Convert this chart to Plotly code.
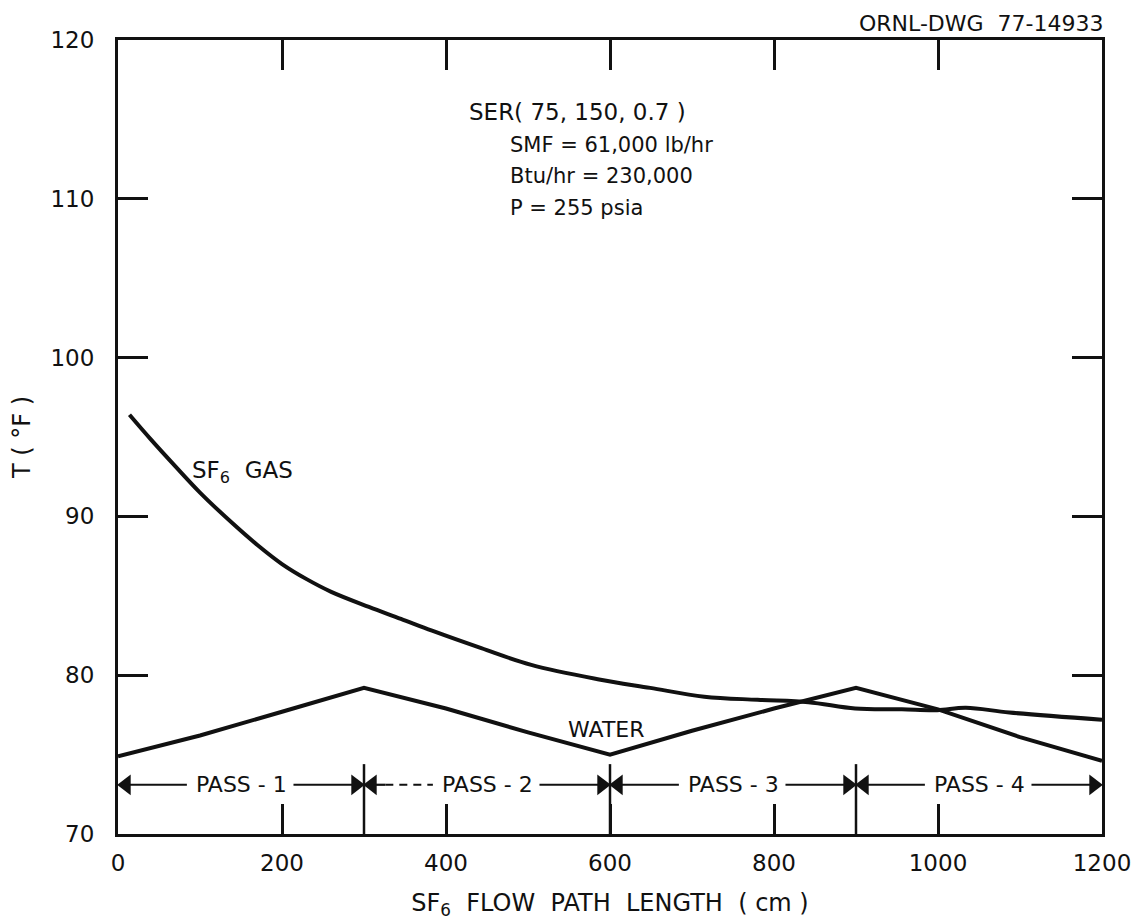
import plotly.graph_objects as go

# SF6 gas temperature along the flow path (cm, deg F)
gas_x = [14, 40, 70, 100, 140, 170, 200, 230, 260, 306, 345, 383, 443, 504, 585, 649, 715, 780, 842, 899, 956, 999, 1034, 1087, 1200]
gas_t = [96.4, 94.85, 93.15, 91.5, 89.55, 88.2, 87.0, 86.05, 85.25, 84.3, 83.55, 82.8, 81.7, 80.65, 79.75, 79.2, 78.65, 78.45, 78.3, 77.9, 77.85, 77.8, 77.95, 77.65, 77.2]

# Cooling water temperature along the same path (cm, deg F)
water_x = [0, 100, 200, 300, 400, 500, 600, 700, 800, 900, 1000, 1100, 1200]
water_t = [74.9, 76.2, 77.7, 79.2, 77.9, 76.4, 75.0, 76.5, 77.9, 79.2, 77.85, 76.1, 74.6]

# Pass boundaries and labels
pass_edges = [0, 300, 600, 900, 1200]
pass_names = ["PASS - 1", "PASS - 2", "PASS - 3", "PASS - 4"]

x_ticks = [0, 200, 400, 600, 800, 1000, 1200]
y_ticks = [70, 80, 90, 100, 110, 120]

FONT = "DejaVu Sans"
BLACK = "#111111"
PASS_Y = 73.1
HEAD = 10  # half length of an arrowhead marker, in cm

fig = go.Figure()
fig.add_trace(go.Scatter(x=gas_x, y=gas_t, mode="lines",
                         line=dict(color=BLACK, width=4, shape="spline", smoothing=1.0),
                         showlegend=False, hoverinfo="skip"))
fig.add_trace(go.Scatter(x=water_x, y=water_t, mode="lines",
                         line=dict(color=BLACK, width=4),
                         showlegend=False, hoverinfo="skip"))


def dim_arrow(x_tip, x_tail, dash="solid"):
    """Shaft from x_tail to x_tip with a filled triangular head at x_tip."""
    pointing_left = x_tip < x_tail
    head_c = x_tip + HEAD if pointing_left else x_tip - HEAD
    fig.add_trace(go.Scatter(x=[x_tail, head_c], y=[PASS_Y, PASS_Y], mode="lines",
                             line=dict(color=BLACK, width=2.2, dash=dash),
                             showlegend=False, hoverinfo="skip"))
    fig.add_trace(go.Scatter(x=[head_c], y=[PASS_Y], mode="markers",
                             marker=dict(symbol="triangle-left" if pointing_left else "triangle-right",
                                         size=18, color=BLACK, line=dict(width=0)),
                             showlegend=False, hoverinfo="skip"))


shapes = []
annotations = []

# Dividers between passes
for xe in pass_edges[1:-1]:
    shapes.append(dict(type="line", xref="x", yref="y", x0=xe, x1=xe, y0=70, y1=74.4,
                       line=dict(color=BLACK, width=2.5)))

# Pass labels with double arrows
for i, name in enumerate(pass_names):
    a, b = pass_edges[i], pass_edges[i + 1]
    cx = (a + b) / 2
    annotations.append(dict(x=cx, y=PASS_Y, xref="x", yref="y", text=name, showarrow=False,
                            font=dict(family=FONT, size=22, color=BLACK)))
    if i == 1:
        dim_arrow(a, a + 26)
        fig.add_trace(go.Scatter(x=[a + 26, cx - 66], y=[PASS_Y, PASS_Y], mode="lines",
                                 line=dict(color=BLACK, width=2.2, dash="8px,6px"),
                                 showlegend=False, hoverinfo="skip"))
    else:
        dim_arrow(a, cx - 66)
    dim_arrow(b, cx + 64)

# Curve labels
annotations.append(dict(x=88, y=92.8, xref="x", yref="y", xanchor="left",
                        text="SF<sub>6</sub>  GAS", showarrow=False,
                        font=dict(family=FONT, size=23, color=BLACK)))
annotations.append(dict(x=546, y=76.6, xref="x", yref="y", xanchor="left",
                        text="WATER", showarrow=False,
                        font=dict(family=FONT, size=22, color=BLACK)))

# Case description block
annotations.append(dict(x=426, y=115.45, xref="x", yref="y", xanchor="left",
                        text="SER( 75, 150, 0.7 )", showarrow=False,
                        font=dict(family=FONT, size=23, color=BLACK)))
for yy, txt in [(113.4, "SMF = 61,000 lb/hr"), (111.45, "Btu/hr = 230,000"), (109.45, "P = 255 psia")]:
    annotations.append(dict(x=475, y=yy, xref="x", yref="y", xanchor="left",
                            text=txt, showarrow=False,
                            font=dict(family=FONT, size=21, color=BLACK)))

# Drawing number
annotations.append(dict(x=1.0, y=1.0, xref="paper", yref="paper", xanchor="right",
                        yanchor="middle", yshift=17, xshift=4,
                        text="ORNL-DWG  77-14933", showarrow=False,
                        font=dict(family=FONT, size=22, color=BLACK)))

fig.update_layout(
    width=1143, height=924,
    margin=dict(l=118, r=36, t=40, b=89),
    paper_bgcolor="white", plot_bgcolor="white",
    shapes=shapes, annotations=annotations,
    font=dict(family=FONT, color=BLACK),
    xaxis=dict(range=[0, 1200], tickvals=x_ticks, ticktext=[str(v) for v in x_ticks],
               ticks="inside", ticklen=30, tickwidth=2.5, tickcolor=BLACK,
               showline=True, linewidth=3, linecolor=BLACK, mirror="ticks",
               showgrid=False, zeroline=False,
               tickfont=dict(family=FONT, size=23, color=BLACK), ticklabelstandoff=6,
               title=dict(text="SF<sub>6</sub>  FLOW  PATH  LENGTH  ( cm )",
                          font=dict(family=FONT, size=24, color=BLACK), standoff=20)),
    yaxis=dict(range=[70, 120], tickvals=y_ticks, ticktext=[str(v) for v in y_ticks],
               ticks="inside", ticklen=30, tickwidth=2.5, tickcolor=BLACK,
               showline=True, linewidth=3, linecolor=BLACK, mirror="ticks",
               showgrid=False, zeroline=False,
               tickfont=dict(family=FONT, size=23, color=BLACK), ticklabelstandoff=16,
               title=dict(text="T ( °F )", font=dict(family=FONT, size=24, color=BLACK),
                          standoff=14)),
)

fig.write_html("out.html")
